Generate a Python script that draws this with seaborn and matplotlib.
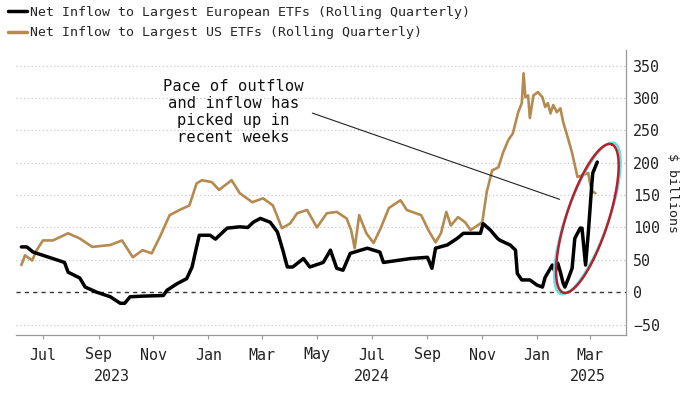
import numpy as np
import pandas as pd
import matplotlib
matplotlib.use('Agg')
import matplotlib.pyplot as plt
import matplotlib.dates as mdates
import matplotlib.transforms as mtransforms
from matplotlib.lines import Line2D
import seaborn as sns

# Net inflow to largest European ETFs, rolling quarterly ($ billions)
eu_dates = ['2023-06-07', '2023-06-13', '2023-06-20', '2023-07-01', '2023-07-12', '2023-07-25',
            '2023-07-29', '2023-08-11', '2023-08-17', '2023-08-30', '2023-09-14', '2023-09-25',
            '2023-09-30', '2023-10-06', '2023-10-20', '2023-11-12', '2023-11-16', '2023-11-27',
            '2023-12-08', '2023-12-14', '2023-12-19', '2023-12-22', '2024-01-03', '2024-01-09',
            '2024-01-22', '2024-02-05', '2024-02-14', '2024-02-20', '2024-02-28', '2024-03-10',
            '2024-03-18', '2024-03-24', '2024-03-29', '2024-04-04', '2024-04-16', '2024-04-23',
            '2024-05-08', '2024-05-16', '2024-05-23', '2024-05-30', '2024-06-07', '2024-06-26',
            '2024-07-10', '2024-07-14', '2024-07-29', '2024-08-13', '2024-09-01', '2024-09-06',
            '2024-09-10', '2024-09-23', '2024-10-04', '2024-10-11', '2024-10-30', '2024-11-02',
            '2024-11-10', '2024-11-18', '2024-11-21', '2024-12-02', '2024-12-08', '2024-12-10',
            '2024-12-15', '2024-12-24', '2025-01-01', '2025-01-07', '2025-01-10', '2025-01-18',
            '2025-01-21', '2025-01-24', '2025-01-27', '2025-01-30', '2025-02-01', '2025-02-05',
            '2025-02-09', '2025-02-12', '2025-02-18', '2025-02-20', '2025-02-24', '2025-02-27',
            '2025-03-03', '2025-03-04', '2025-03-09']
eu_values = [70, 70, 62, 57, 52, 46,
             31, 22, 8, 0, -7, -17,
             -17, -7, -6, -5, 3, 13,
             21, 39, 70, 88, 88, 82,
             99, 101, 100, 108, 114, 108,
             93, 65, 39, 39, 52, 39,
             46, 65, 37, 34, 60, 68,
             62, 46, 49, 52, 54, 37,
             68, 73, 83, 91, 91, 106,
             96, 83, 80, 73, 65, 29,
             19, 19, 11, 8, 23, 42,
             31, 45, 31, 14, 8, 22,
             37, 83, 99, 99, 42, 91,
             168, 184, 201]

# Net inflow to largest US ETFs, rolling quarterly ($ billions)
us_dates = ['2023-06-07', '2023-06-11', '2023-06-19', '2023-06-24', '2023-07-01', '2023-07-12',
            '2023-07-29', '2023-08-11', '2023-08-25', '2023-09-14', '2023-09-27', '2023-10-09',
            '2023-10-20', '2023-10-30', '2023-11-08', '2023-11-19', '2023-11-30', '2023-12-11',
            '2023-12-19', '2023-12-25', '2024-01-05', '2024-01-13', '2024-01-27', '2024-02-05',
            '2024-02-19', '2024-03-02', '2024-03-13', '2024-03-23', '2024-04-01', '2024-04-09',
            '2024-04-20', '2024-05-01', '2024-05-12', '2024-05-23', '2024-06-03', '2024-06-08',
            '2024-06-12', '2024-06-17', '2024-06-25', '2024-07-03', '2024-07-11', '2024-07-20',
            '2024-08-02', '2024-08-09', '2024-08-25', '2024-09-02', '2024-09-10', '2024-09-16',
            '2024-09-22', '2024-09-27', '2024-10-05', '2024-10-13', '2024-10-19', '2024-11-01',
            '2024-11-06', '2024-11-12', '2024-11-19', '2024-11-24', '2024-11-30', '2024-12-05',
            '2024-12-11', '2024-12-15', '2024-12-17', '2024-12-19', '2024-12-22', '2024-12-24',
            '2024-12-28', '2025-01-02', '2025-01-07', '2025-01-10', '2025-01-13', '2025-01-16',
            '2025-01-19', '2025-01-23', '2025-01-27', '2025-01-30', '2025-02-05', '2025-02-09',
            '2025-02-15', '2025-02-21', '2025-02-27', '2025-03-01', '2025-03-04', '2025-03-07']
us_values = [42, 57, 49, 65, 80, 80,
             91, 83, 70, 73, 80, 54,
             65, 60, 85, 119, 127, 134,
             168, 173, 170, 158, 173, 153,
             139, 145, 134, 99, 106, 122,
             127, 100, 122, 124, 114, 96,
             68, 119, 91, 76, 99, 130,
             142, 127, 119, 96, 77, 91,
             124, 103, 116, 108, 96, 108,
             155, 188, 193, 215, 235, 245,
             278, 292, 338, 301, 304, 269,
             304, 309, 301, 286, 292, 276,
             289, 278, 284, 263, 235, 215,
             178, 181, 184, 168, 155, 153]

eu_label = 'Net Inflow to Largest European ETFs (Rolling Quarterly)'
us_label = 'Net Inflow to Largest US ETFs (Rolling Quarterly)'
y_ticks = [-50, 0, 50, 100, 150, 200, 250, 300, 350]
year_labels = ['2023', '2024', '2025']
year_positions = ['2023-09-16', '2024-07-01', '2025-02-27']
note_text = 'Pace of outflow\nand inflow has\npicked up in\nrecent weeks'

GOLD = '#b58a50'
MONO = 'DejaVu Sans Mono'

eu_df = pd.DataFrame({'date': pd.to_datetime(eu_dates), 'value': eu_values})
us_df = pd.DataFrame({'date': pd.to_datetime(us_dates), 'value': us_values})

sns.set_style('white')
plt.rcParams['font.family'] = [MONO, 'DejaVu Sans']

fig = plt.figure(figsize=(7, 3.94), dpi=100)
ax = fig.add_axes([16 / 700, 1 - 335 / 394, (626 - 16) / 700, (335 - 50) / 394])

sns.lineplot(data=us_df, x='date', y='value', ax=ax, color=GOLD, linewidth=1.9)
sns.lineplot(data=eu_df, x='date', y='value', ax=ax, color='black', linewidth=2.5)

ax.set_xlim(pd.Timestamp('2023-06-01'), pd.Timestamp('2025-04-10'))
ax.set_ylim(-66, 374)

# gridlines: dotted for levels, dashed at zero
for v in y_ticks:
    if v == 0:
        ax.axhline(v, color='#333333', linestyle=(0, (3, 3)), linewidth=1.0, zorder=1)
    else:
        ax.axhline(v, color='#c8c8c8', linestyle=(0, (1, 2)), linewidth=0.9, zorder=0)

ax.yaxis.tick_right()
ax.yaxis.set_label_position('right')
ax.set_yticks(y_ticks)
ax.tick_params(axis='y', length=0, pad=5, labelsize=10.8, colors='#222222')
ax.set_ylabel('$ billions', rotation=270, fontsize=9.5, labelpad=14, color='#222222')
ax.set_xlabel('')

ax.xaxis.set_major_locator(mdates.MonthLocator(bymonth=[1, 3, 5, 7, 9, 11]))
ax.xaxis.set_major_formatter(mdates.DateFormatter('%b'))
ax.tick_params(axis='x', length=3, width=0.8, color='#999999', pad=6,
               labelsize=10.8, labelcolor='#222222', bottom=True)

for side in ['left', 'top']:
    ax.spines[side].set_visible(False)
for side in ['right', 'bottom']:
    ax.spines[side].set_color('#999999')
    ax.spines[side].set_linewidth(0.9)

trans = mtransforms.blended_transform_factory(ax.transData, ax.transAxes)
for lab, pos in zip(year_labels, year_positions):
    ax.text(pd.Timestamp(pos), -0.147, lab, transform=trans, ha='center', va='center',
            fontsize=10.8, color='#222222')

# annotation text and pointer line
ax.text(pd.Timestamp('2024-01-29'), 278, note_text, ha='center', va='center',
        fontsize=11.2, linespacing=1.15, color='#111111')
ax.annotate('', xy=(pd.Timestamp('2025-01-29'), 142), xytext=(pd.Timestamp('2024-04-23'), 278),
            arrowprops=dict(arrowstyle='-', color='#222222', lw=0.8))


def draw_ellipse(ax, center_date, center_val, a, b, angle, color, lw):
    cx, cy = ax.transData.transform((mdates.date2num(pd.Timestamp(center_date)), center_val))
    t = np.linspace(0, 2 * np.pi, 300)
    th = np.deg2rad(angle)
    xs = a * np.cos(t) * np.cos(th) - b * np.sin(t) * np.sin(th) + cx
    ys = a * np.cos(t) * np.sin(th) + b * np.sin(t) * np.cos(th) + cy
    pts = ax.transData.inverted().transform(np.column_stack([xs, ys]))
    ax.plot(pts[:, 0], pts[:, 1], color=color, lw=lw, clip_on=False, zorder=5)


draw_ellipse(ax, '2025-02-26', 114, 80, 21, 70.5, '#6fdbe8', 1.8)
draw_ellipse(ax, '2025-02-26', 114, 78, 21, 72, '#b5202a', 1.8)

handles = [Line2D([], [], color='black', lw=2.5), Line2D([], [], color=GOLD, lw=2.5)]
fig.legend(handles, [eu_label, us_label], loc='upper left', bbox_to_anchor=(8 / 700, 1 - 6 / 394),
           frameon=False, fontsize=9.5, handlelength=1.45, handletextpad=0.25,
           labelspacing=0.55, borderpad=0, borderaxespad=0)

fig.savefig('out.png', dpi=100)
plt.close(fig)
